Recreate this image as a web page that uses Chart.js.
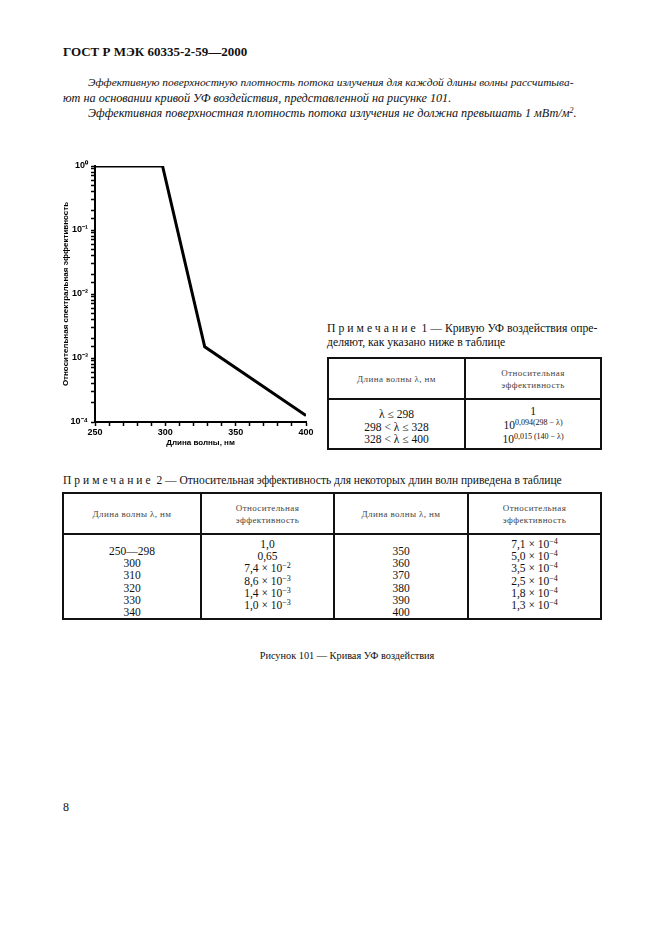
<!DOCTYPE html>
<html>
<head>
<meta charset="utf-8">
<script src="https://cdn.jsdelivr.net/npm/chart.js@4.4.0/dist/chart.umd.min.js"></script>
<style>
  html, body { margin: 0; padding: 0; background: #fff; }
  body { width: 661px; height: 936px; position: relative; overflow: hidden;
         font-family: "Liberation Serif", "DejaVu Serif", serif; color: #111; }
  .t { position: absolute; white-space: nowrap; line-height: 14px; }
  .it { font-style: italic; }
  .sp { letter-spacing: 3px; }
  #chartBox { position: absolute; left: 50px; top: 150px; width: 275px; height: 300px; }
  table { position: absolute; border-collapse: collapse; table-layout: fixed; }
  td { border: 2px solid #111; text-align: center; padding: 0; }
  td.h { font-size: 9px; letter-spacing: 0.4px; line-height: 12px; color: #444; vertical-align: middle; }
  td.b { font-size: 11.5px; line-height: 12.2px; vertical-align: top; }
  sup { font-size: 8px; line-height: 0; vertical-align: 4px; }
</style>
</head>
<body>

<div class="t" style="left:63px; top:45px; font-weight:bold; font-size:13px;">ГОСТ Р МЭК 60335-2-59—2000</div>

<div class="t it" style="left:88px; top:75px; font-size:11.4px;">Эффективную поверхностную плотность потока излучения для каждой длины волны рассчитыва-</div>
<div class="t it" style="left:63px; top:91px; font-size:12.2px;">ют на основании кривой УФ воздействия, представленной на рисунке 101.</div>
<div class="t it" style="left:88px; top:106px; font-size:12.2px;">Эффективная поверхностная плотность потока излучения не должна превышать 1 мВт/м<sup>2</sup>.</div>

<div id="chartBox"><canvas id="uvChart"></canvas></div>

<div class="t" style="left:327px; top:322px; font-size:11.7px;"><span class="sp">Примечание</span> 1 — Кривую УФ воздействия опре-</div>
<div class="t" style="left:327px; top:336px; font-size:11.7px;">деляют, как указано ниже в таблице</div>

<table style="left:327px; top:357px; width:273px; height:91px;">
  <colgroup><col style="width:137px"><col style="width:136px"></colgroup>
  <tr style="height:41px">
    <td class="h">Длина волны λ, нм</td>
    <td class="h">Относительная<br>эффективность</td>
  </tr>
  <tr style="height:50px">
    <td class="b" style="padding-top:8px; line-height:12.5px;">λ ≤ 298<br>298 &lt; λ ≤ 328<br>328 &lt; λ ≤ 400</td>
    <td class="b" style="padding-top:4px; line-height:14px;">1<br>10<sup>0,094(298 − λ)</sup><br>10<sup>0,015 (140 − λ)</sup></td>
  </tr>
</table>

<div class="t" style="left:63px; top:473px; font-size:11.5px;"><span class="sp">Примечание</span> 2 — Относительная эффективность для некоторых длин волн приведена в таблице</div>

<table style="left:62px; top:492px; width:538px; height:126px;">
  <colgroup><col style="width:138px"><col style="width:133px"><col style="width:134px"><col style="width:133px"></colgroup>
  <tr style="height:41px">
    <td class="h">Длина волны λ, нм</td>
    <td class="h">Относительная<br>эффективность</td>
    <td class="h">Длина волны λ, нм</td>
    <td class="h">Относительная<br>эффективность</td>
  </tr>
  <tr style="height:85px">
    <td class="b" style="padding-top:10px;">250—298<br>300<br>310<br>320<br>330<br>340</td>
    <td class="b" style="padding-top:3px;">1,0<br>0,65<br>7,4 × 10<sup>−2</sup><br>8,6 × 10<sup>−3</sup><br>1,4 × 10<sup>−3</sup><br>1,0 × 10<sup>−3</sup></td>
    <td class="b" style="padding-top:10px;">350<br>360<br>370<br>380<br>390<br>400</td>
    <td class="b" style="padding-top:3px;">7,1 × 10<sup>−4</sup><br>5,0 × 10<sup>−4</sup><br>3,5 × 10<sup>−4</sup><br>2,5 × 10<sup>−4</sup><br>1,8 × 10<sup>−4</sup><br>1,3 × 10<sup>−4</sup></td>
  </tr>
</table>

<div class="t" style="left:0; width:694px; text-align:center; top:649px; font-size:10.3px;">Рисунок 101 — Кривая УФ воздействия</div>

<div class="t" style="left:63px; top:800px; font-size:12px;">8</div>

<script>
// кривая УФ воздействия
const wavelengths = [250, 298, 328, 400];
const effectiveness = [1, 1, 0.0015, 0.000126];

const xTickLabels = [250, 300, 350, 400];
const yTickLabels = {1: '10⁰', 0.1: '10⁻¹', 0.01: '10⁻²', 0.001: '10⁻³', 0.0001: '10⁻⁴'};

const points = wavelengths.map((w, i) => ({x: w, y: effectiveness[i]}));

const tickFont = {family: "'Liberation Sans', Arial, sans-serif", size: 9, weight: 'bold'};
const titleFont = {family: "'Liberation Sans', Arial, sans-serif", size: 8, weight: 'bold'};

const ctx = document.getElementById('uvChart').getContext('2d');
const uvChart = new Chart(ctx, {
    type: 'line',
    data: {
        datasets: [{
            data: points,
            borderColor: '#000',
            borderWidth: 3,
            pointRadius: 0,
            tension: 0,
            fill: false
        }]
    },
    options: {
        responsive: true,
        maintainAspectRatio: false,
        animation: false,
        layout: {padding: {top: 16, right: 19, left: 0, bottom: 0}},
        plugins: {legend: {display: false}, tooltip: {enabled: false}},
        scales: {
            x: {
                type: 'linear',
                min: 250,
                max: 400,
                border: {display: true, color: '#000', width: 2},
                grid: {display: true, drawOnChartArea: false, tickLength: 4, tickColor: '#000', tickWidth: 1.5},
                ticks: {
                    stepSize: 10,
                    autoSkip: false,
                    maxRotation: 0,
                    padding: 1,
                    color: '#000',
                    font: tickFont,
                    callback: v => xTickLabels.includes(v) ? String(v) : ''
                },
                title: {display: true, text: 'Длина волны, нм', color: '#000', font: titleFont, padding: {top: 0, bottom: 2}},
                afterFit: s => { s.height = 28; }
            },
            y: {
                type: 'logarithmic',
                min: 0.0001,
                max: 1,
                border: {display: true, color: '#000', width: 2},
                grid: {display: true, drawOnChartArea: false, tickLength: 4, tickColor: '#000', tickWidth: 1.5},
                ticks: {
                    autoSkip: false,
                    padding: 3,
                    color: '#000',
                    font: tickFont,
                    callback: v => yTickLabels[v] !== undefined ? yTickLabels[v] : ''
                },
                title: {display: true, text: 'Относительная спектральная эффективность', color: '#000', font: titleFont, padding: {top: 11, bottom: 0}},
                afterFit: s => { s.width = 45; }
            }
        }
    }
});
</script>
</body>
</html>
